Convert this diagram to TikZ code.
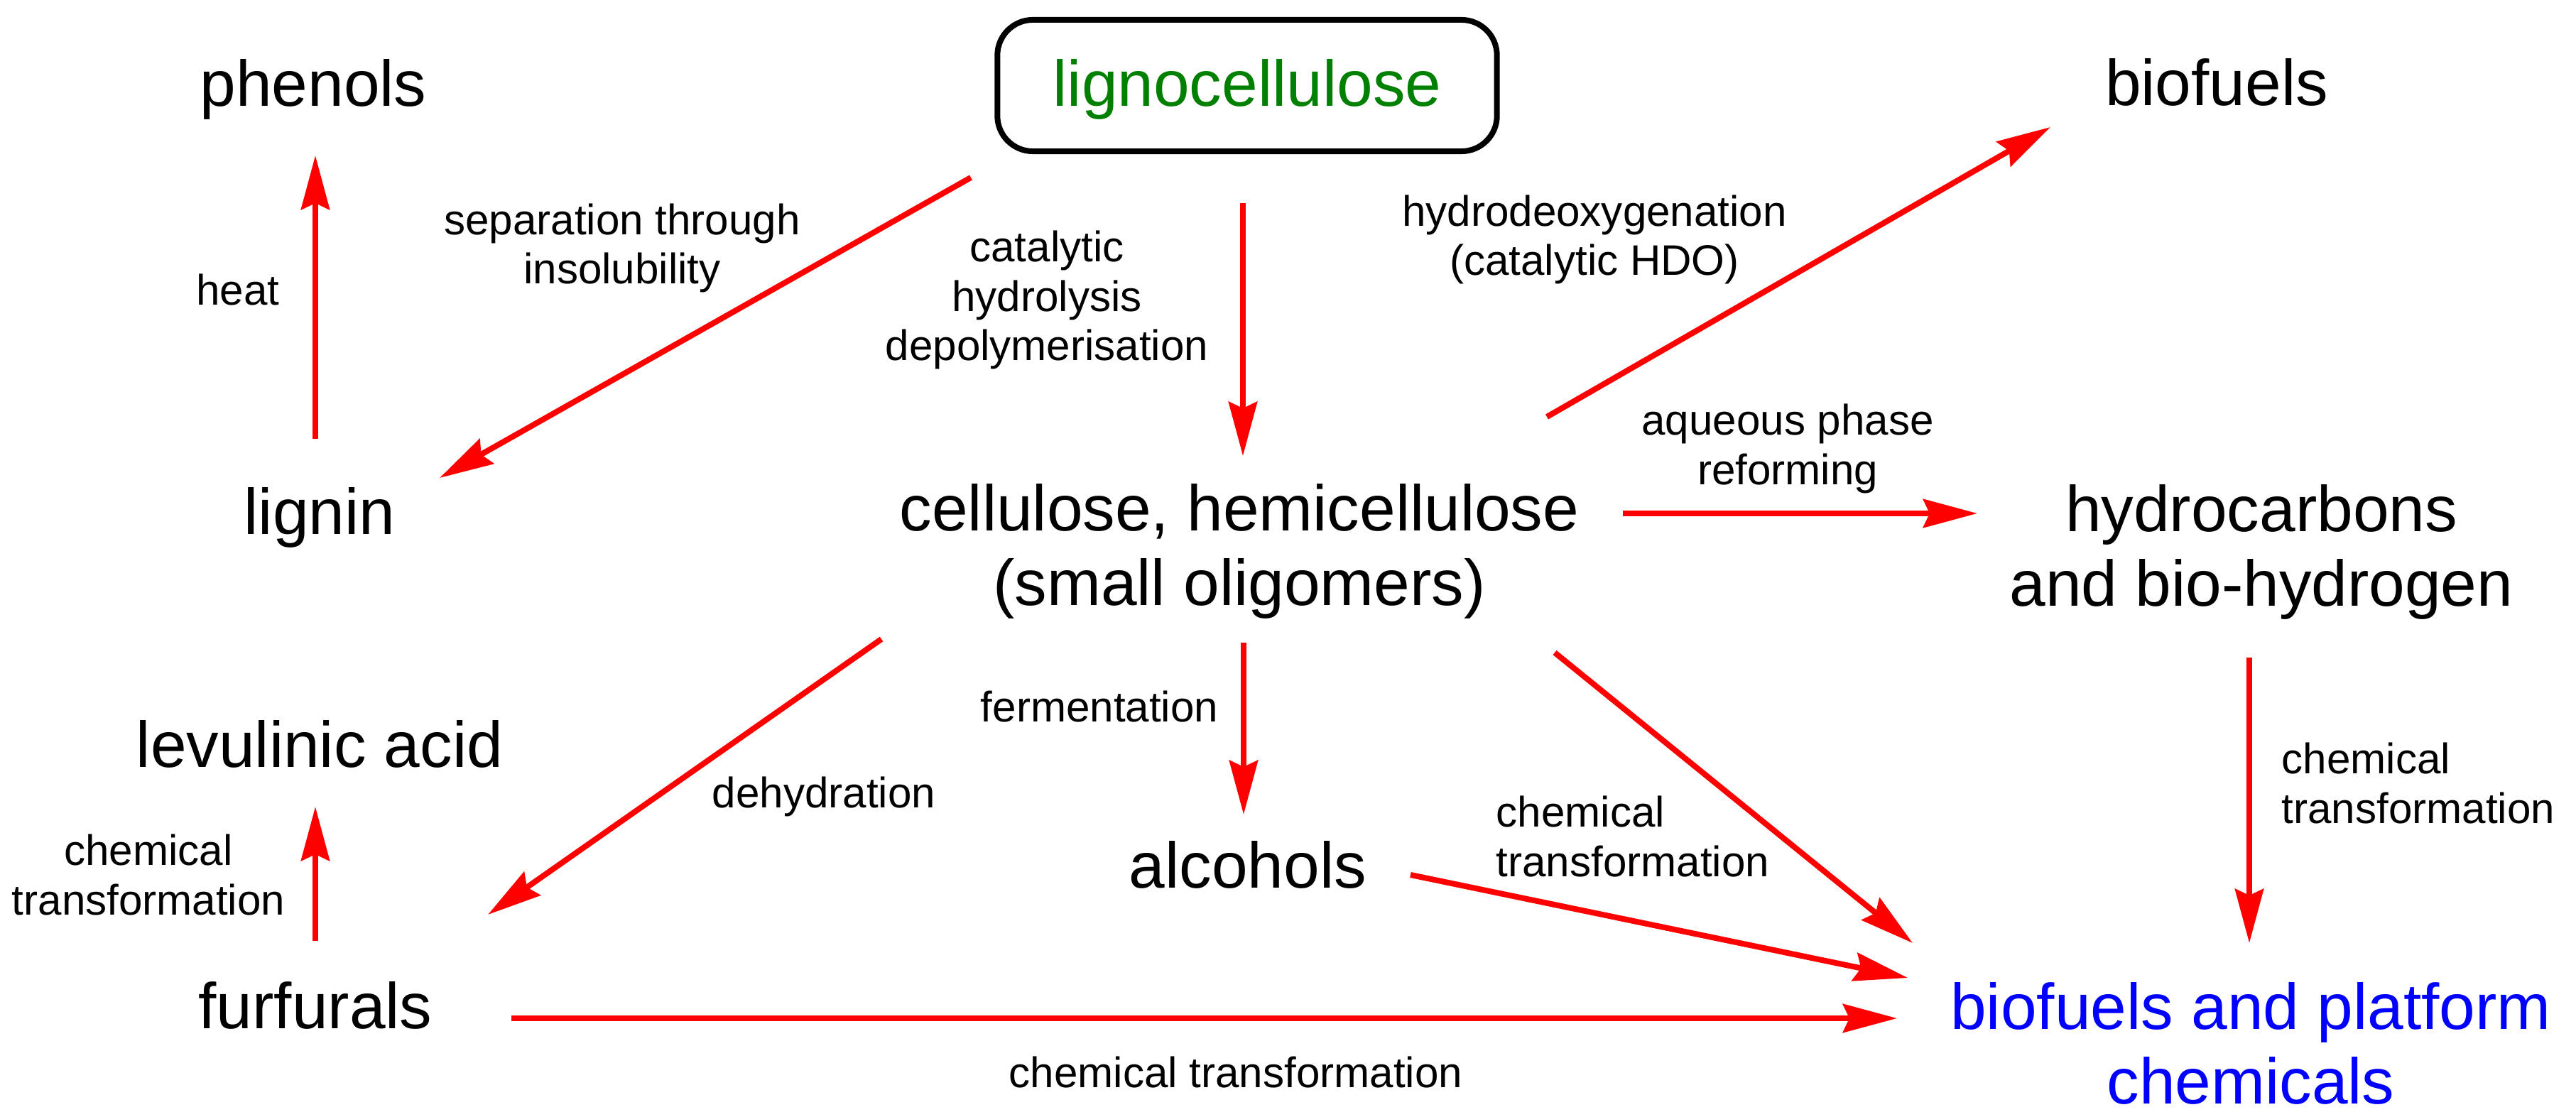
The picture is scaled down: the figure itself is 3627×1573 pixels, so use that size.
\documentclass[tikz,border=0pt]{standalone}
\usepackage{fontspec}
\setmainfont{Liberation Sans}
\usetikzlibrary{arrows.meta,calc}
\definecolor{lgreen}{RGB}{0,128,0}
\definecolor{pblue}{RGB}{0,0,255}
\definecolor{ared}{RGB}{255,0,0}
\begin{document}
\begin{tikzpicture}[x=0.01cm,y=-0.01cm,
  big/.style={font=\fontsize{25.9pt}{29.6pt}\selectfont, align=center, inner sep=0pt, anchor=base},
  small/.style={font=\fontsize{17.1pt}{19.9pt}\selectfont, align=center, inner sep=0pt, anchor=base},
  smallleft/.style={small, align=left, anchor=base west},
  startbox/.style={draw=black, line width=0.08cm, rounded corners=0.5cm, minimum width=7.03cm,
    minimum height=1.85cm, inner sep=0pt, text height=0.8cm, text depth=0.23cm,
    font=\fontsize{25.9pt}{29.6pt}\selectfont, text=lgreen},
  arr/.style={draw=ared, line width=0.08cm, -{Stealth[length=0.76cm,width=0.40cm,inset=0.09cm]}}]
\fill[white] (0,0) rectangle (3627,1573);
\useasboundingbox (0,0) rectangle (3627,1573);

% main nodes (multi-line nodes are placed by the baseline of their last line)
\node[startbox] (ligno) at (1756,120.5) {lignocellulose};
\node[big] (phen) at (441,150) {phenols};
\node[big] (lig) at (450,752) {lignin};
\node[big] (lev) at (450,1080) {levulinic acid};
\node[big] (fur) at (444,1448) {furfurals};
\node[big] (bio) at (3121,149) {biofuels};
\node[big] (cel) at (1745,852) {cellulose, hemicellulose\\(small oligomers)};
\node[big] (hyd) at (3184,853) {hydrocarbons\\and bio-hydrogen};
\node[big] (alc) at (1757,1250) {alcohols};
\node[big, text=pblue] (prod) at (3169,1554) {biofuels and platform\\chemicals};

% labels
\node[small] (lheat) at (335,430) {heat};
\node[small] (lsep) at (876,400) {separation through\\insolubility};
\node[small] (lhyd) at (1474,508) {catalytic\\hydrolysis\\depolymerisation};
\node[small] (lhdo) at (2245,388) {hydrodeoxygenation\\(catalytic HDO)};
\node[small] (lapr) at (2517,682) {aqueous phase\\reforming};
\node[small] (lfer) at (1548,1016) {fermentation};
\node[small] (ldeh) at (1160,1137) {dehydration};
\node[small] (lct1) at (209,1288) {chemical\\transformation};
\node[smallleft] (lct2) at (2106,1234) {chemical\\transformation};
\node[smallleft] (lct3) at (3212,1159) {chemical\\transformation};
\node[small] (lct4) at (1740,1531) {chemical transformation};

% connectors
\draw[arr] ($(lig.base)+(-6,-134)$) -- ($(phen.base)+(3,69)$);
\draw[arr] ($(ligno.center)+(-389,129.5)$) -- ($(lig.base)+(169,-79)$);
\draw[arr] ($(ligno.center)+(-6,165.5)$) -- ($(cel.base)+(5,-210)$);
\draw[arr] ($(cel.base)+(433,-265)$) -- ($(bio.base)+(-234,30)$);
\draw[arr] ($(cel.base)+(540,-129)$) -- ($(hyd.base)+(-400,-130)$);
\draw[arr] ($(cel.base)+(-504,48)$) -- ($(fur.base)+(243,-160)$);
\draw[arr] ($(cel.base)+(6,53)$) -- ($(alc.base)+(-6,-103)$);
\draw[arr] ($(cel.base)+(444,67)$) -- ($(prod.base)+(-476,-226)$);
\draw[arr] ($(alc.base)+(229,-18)$) -- ($(prod.base)+(-483,-177)$);
\draw[arr] ($(fur.base)+(276,-14)$) -- ($(prod.base)+(-498,-120)$);
\draw[arr] ($(hyd.base)+(-17,73)$) -- ($(prod.base)+(-2,-226)$);
\draw[arr] ($(fur.base)+(0,-123)$) -- ($(lev.base)+(-6,56)$);
\end{tikzpicture}
\end{document}
